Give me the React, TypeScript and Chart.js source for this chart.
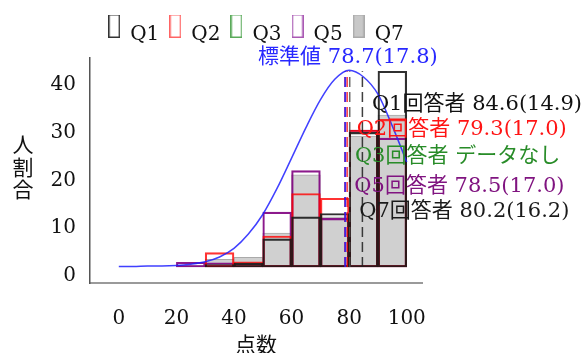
import React, { useEffect, useRef } from 'react';
import { Chart, registerables } from 'chart.js';

Chart.register(...registerables);

// ---------- data ----------
const SERIES_NAMES = ['Q1', 'Q2', 'Q3', 'Q5', 'Q7'];
const BIN_CENTERS = [25, 35, 45, 55, 65, 75, 85, 95];
const Q1_VALUES = [0, 0.5, 0.8, 5.9, 10.5, 11.2, 28.2, 41.0];
const Q2_VALUES = [0, 3.0, 1.1, 6.5, 15.4, 14.4, 28.7, 30.9];
const Q3_VALUES: (number | null)[] = [null, null, null, null, null, null, null, null];
const Q5_VALUES = [1.0, 0.9, 0.5, 11.5, 20.2, 10.2, 28.7, 27.0];
const Q7_VALUES = [0.3, 1.6, 2.0, 7.1, 19.3, 10.5, 27.4, 31.8];

const CURVE_X = [0, 5, 10, 15, 20, 25, 30, 35, 40, 45, 50, 55, 60, 65, 70, 75, 80, 85, 90, 95, 100];
const CURVE_Y = [0.1, 0.1, 0.2, 0.2, 0.3, 0.6, 1.1, 2.1, 3.9, 6.9, 11.0, 16.5, 22.8, 29.2, 35.0, 39.3, 41.2, 39.8, 36.2, 29.5, 22.0];

const NORMAL_MEAN = 78.7;
const NORMAL_SD = 17.8;
const SERIES_MEANS: (number | null)[] = [84.6, 79.3, null, 78.5, 80.2];
const SERIES_SDS: (number | null)[] = [14.9, 17.0, null, 17.0, 16.2];
const MEAN_LINE_TOP = 41;

const X_TICKS = [0, 20, 40, 60, 80, 100];
const Y_TICKS = [0, 10, 20, 30, 40];
const X_TITLE = '点数';
const Y_TITLE = '人割合';
const NORMAL_LABEL = '標準値';
const ANSWER_LABEL = '回答者';
const NO_DATA_LABEL = 'データなし';

// ---------- styles ----------
const FONT = "'DejaVu Serif', 'Noto Sans CJK JP', serif";
const SERIES_VALUES = [Q1_VALUES, Q2_VALUES, Q3_VALUES, Q5_VALUES, Q7_VALUES];
const STYLES = [
  { border: 'rgba(25,25,25,0.9)', fill: 'rgba(0,0,0,0)', width: 1.5, text: '#111111', dash: 'rgba(30,30,30,0.85)', legendBorder: '#333333', legendFill: 'rgba(0,0,0,0)' },
  { border: 'rgba(255,0,0,0.8)', fill: 'rgba(0,0,0,0)', width: 1.5, text: 'rgb(255,20,20)', dash: 'rgba(255,0,0,0.8)', legendBorder: 'rgb(255,100,100)', legendFill: 'rgba(0,0,0,0)' },
  { border: 'rgba(0,128,0,0.8)', fill: 'rgba(0,0,0,0)', width: 1.5, text: 'rgb(40,140,40)', dash: 'rgba(0,128,0,0.8)', legendBorder: 'rgb(90,170,90)', legendFill: 'rgba(0,0,0,0)' },
  { border: 'rgba(128,0,128,0.9)', fill: 'rgba(0,0,0,0)', width: 1.5, text: 'rgb(128,20,128)', dash: 'rgba(128,0,128,0.8)', legendBorder: 'rgb(170,90,180)', legendFill: 'rgba(0,0,0,0)' },
  { border: 'rgba(170,170,170,1)', fill: 'rgba(208,208,208,1)', width: 1, text: '#1a1a1a', dash: 'rgba(80,80,80,0.85)', legendBorder: 'rgb(170,170,170)', legendFill: 'rgb(200,200,200)' },
];
const NORMAL_COLOR = 'rgba(30,30,255,0.85)';
const NORMAL_TEXT = 'rgb(40,40,255)';
const LABEL_ROW_OFFSETS = [47, 72, 98.5, 128.5, 153.5];

function makeLegendImage(fill: string, border: string): HTMLCanvasElement {
  const c = document.createElement('canvas');
  c.width = 12;
  c.height = 42;
  const g = c.getContext('2d')!;
  g.fillStyle = fill;
  g.fillRect(0, 0, 12, 24);
  g.strokeStyle = border;
  g.lineWidth = 1.5;
  g.strokeRect(0.75, 0.75, 10.5, 22.5);
  return c;
}

const textPlugin = {
  id: 'textAnnotations',
  afterDatasetsDraw(chart: any) {
    const { ctx, chartArea, scales } = chart;
    const xs = scales.x;
    ctx.save();
    ctx.font = `21px ${FONT}`;
    ctx.textBaseline = 'middle';
    ctx.textAlign = 'center';
    ctx.fillStyle = NORMAL_TEXT;
    ctx.fillText(
      `${NORMAL_LABEL} ${NORMAL_MEAN.toFixed(1)}(${NORMAL_SD.toFixed(1)})`,
      xs.getPixelForValue(NORMAL_MEAN) + 2.5,
      chartArea.top - 0.5
    );
    ctx.textAlign = 'left';
    SERIES_NAMES.forEach((name, i) => {
      const m = SERIES_MEANS[i];
      const s = SERIES_SDS[i];
      const text = m == null || s == null
        ? `${name}${ANSWER_LABEL} ${NO_DATA_LABEL}`
        : `${name}${ANSWER_LABEL} ${m.toFixed(1)}(${s.toFixed(1)})`;
      ctx.fillStyle = STYLES[i].text;
      ctx.fillText(text, xs.getPixelForValue(m == null ? NORMAL_MEAN : m) + 9.5, chartArea.top + LABEL_ROW_OFFSETS[i]);
    });
    // vertical stacked y-axis title
    ctx.textAlign = 'center';
    ctx.fillStyle = '#111111';
    const chars = Array.from(Y_TITLE);
    const mid = (chartArea.top + chartArea.bottom) / 2;
    const step = 22.5;
    chars.forEach((ch, i) => {
      ctx.fillText(ch, 23, mid + (i - (chars.length - 1) / 2) * step - 1);
    });
    ctx.restore();
  },
};

export default function App() {
  const ref = useRef<HTMLCanvasElement>(null);

  useEffect(() => {
    const canvas = ref.current;
    if (!canvas) return;
    const legendImages = STYLES.map((s) => makeLegendImage(s.legendFill, s.legendBorder));

    const datasets: any[] = [];
    datasets.push({
      type: 'line',
      label: 'normal',
      data: CURVE_X.map((x, i) => ({ x, y: CURVE_Y[i] })),
      borderColor: NORMAL_COLOR,
      borderWidth: 1.5,
      pointRadius: 0,
      fill: false,
      cubicInterpolationMode: 'monotone',
    });
    const meanLines = [{ m: NORMAL_MEAN, c: NORMAL_COLOR }].concat(
      SERIES_MEANS.map((m, i) => ({ m: m as number, c: STYLES[i].dash })).filter((d) => d.m != null)
    );
    meanLines.forEach((d) => {
      datasets.push({
        type: 'line',
        label: 'mean',
        data: [{ x: d.m, y: 0 }, { x: d.m, y: MEAN_LINE_TOP }],
        borderColor: d.c,
        borderWidth: 1.5,
        borderDash: [10, 5],
        pointRadius: 0,
        fill: false,
      });
    });
    SERIES_NAMES.forEach((name, i) => {
      datasets.push({
        label: name,
        data: BIN_CENTERS.map((x, j) => ({ x, y: SERIES_VALUES[i][j] })),
        backgroundColor: STYLES[i].fill,
        borderColor: STYLES[i].border,
        borderWidth: STYLES[i].width,
        borderSkipped: false,
        grouped: false,
        barPercentage: 1,
        categoryPercentage: 1,
      });
    });

    const chart = new Chart(canvas, {
      type: 'bar',
      data: { datasets },
      plugins: [textPlugin],
      options: {
        animation: false,
        responsive: false,
        devicePixelRatio: 1,
        events: [],
        layout: { padding: { left: 0, right: 165, top: 15, bottom: 0 } },
        plugins: {
          tooltip: { enabled: false },
          title: { display: false },
          subtitle: {
            display: true,
            text: '',
            weight: 500,
            position: 'top',
            font: { size: 10 },
            padding: { top: 0, bottom: -9 },
          },
          legend: {
            display: true,
            position: 'top',
            align: 'center',
            fullSize: false,
            labels: {
              usePointStyle: true,
              boxWidth: 12,
              boxHeight: 20,
              padding: 10,
              color: '#111111',
              font: { family: FONT, size: 20 },
              filter: (item: any, data: any) => data.datasets[item.datasetIndex].type !== 'line',
              generateLabels: (ch: any) => {
                const base = (Chart.defaults.plugins.legend.labels as any).generateLabels(ch);
                return base.map((it: any) => {
                  const idx = it.datasetIndex - (ch.data.datasets.length - SERIES_NAMES.length);
                  return { ...it, pointStyle: legendImages[idx] || it.pointStyle };
                });
              },
            },
          },
        },
        scales: {
          x: {
            type: 'linear',
            min: -10,
            max: 105.3,
            offset: false,
            grid: { display: false, drawTicks: false },
            border: { display: true, color: '#9a9a9a', width: 2 },
            afterBuildTicks: (s: any) => {
              s.ticks = X_TICKS.map((v) => ({ value: v }));
            },
            afterFit: (s: any) => {
              s.height = 70;
            },
            ticks: {
              padding: 24,
              color: '#111111',
              font: { family: FONT, size: 20 },
              maxRotation: 0,
              autoSkip: false,
            },
            title: {
              display: true,
              text: X_TITLE,
              color: '#111111',
              font: { family: FONT, size: 21 },
              padding: { top: 0, bottom: -6 },
            },
          },
          y: {
            type: 'linear',
            min: -3.35,
            max: 43.77,
            grid: { display: false, drawTicks: false },
            border: { display: true, color: '#555555', width: 1.5 },
            afterBuildTicks: (s: any) => {
              s.ticks = Y_TICKS.map((v) => ({ value: v }));
            },
            afterFit: (s: any) => {
              s.width = 90;
            },
            ticks: {
              padding: 14,
              labelOffset: 9,
              color: '#111111',
              font: { family: FONT, size: 20 },
            },
          },
        },
      } as any,
    });
    return () => chart.destroy();
  }, []);

  return (
    <div style={{ position: 'absolute', left: 0, top: 0, width: 587, height: 353, background: '#ffffff' }}>
      <canvas ref={ref} width={587} height={353} style={{ display: 'block', width: 587, height: 353 }} />
    </div>
  );
}
